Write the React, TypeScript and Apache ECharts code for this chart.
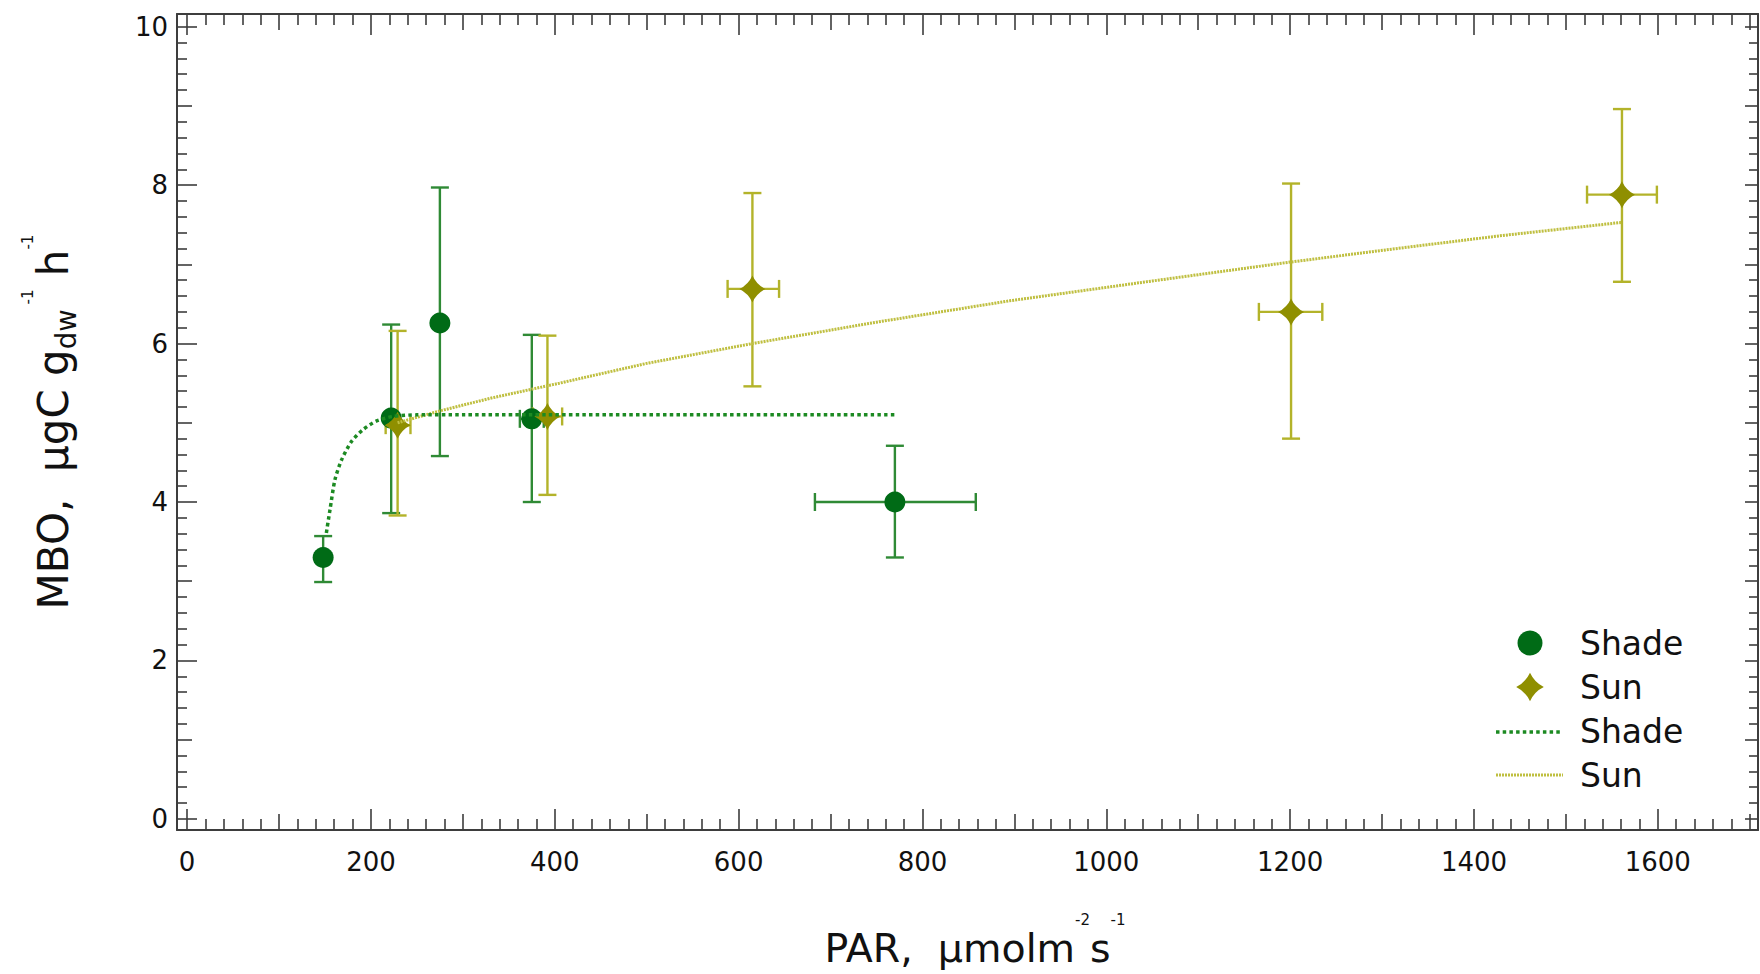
import React, { useEffect, useRef } from "react";
import * as echarts from "echarts";

// ---------- data ----------
const shadeX = [148, 222, 275, 375, 770];
const shadeY = [3.3, 5.06, 6.26, 5.05, 4.0];
const shadeYLow = [2.99, 3.86, 4.58, 4.0, 3.3];
const shadeYHigh = [3.57, 6.24, 7.97, 6.11, 4.71];
const shadeXLow = [148, 222, 275, 362, 683];
const shadeXHigh = [148, 222, 275, 388, 858];

const sunX = [229, 392, 615, 1201, 1561];
const sunY = [4.97, 5.08, 6.69, 6.4, 7.88];
const sunYLow = [3.83, 4.09, 5.46, 4.8, 6.78];
const sunYHigh = [6.16, 6.1, 7.9, 8.02, 8.96];
const sunXLow = [216, 376, 588, 1166, 1523];
const sunXHigh = [243, 408, 644, 1235, 1599];

// fitted curves, points
const shadeFitX = [151.5, 155.4, 160.8, 168, 178.6, 191, 205.6, 224, 250, 300, 771];
const shadeFitY = [3.61, 3.9, 4.28, 4.53, 4.76, 4.91, 5.02, 5.08, 5.1, 5.1, 5.1];
const sunFitX = [229, 275, 330, 405, 500, 615, 750, 895, 1050, 1201, 1330, 1428, 1561];
const sunFitY = [5.0, 5.15, 5.31, 5.5, 5.75, 6.0, 6.27, 6.54, 6.79, 7.03, 7.22, 7.36, 7.53];

// axes
const X_MIN = -11;
const X_MAX = 1709;
const Y_MIN = -0.14;
const Y_MAX = 10.16;
const xMajorTicks = [0, 200, 400, 600, 800, 1000, 1200, 1400, 1600];
const xMediumTicks = [100, 300, 500, 700, 900, 1100, 1300, 1500, 1700];
const xMinorTicks: number[] = [];
for (let v = 20; v <= 1700; v += 20) if (v % 100 !== 0) xMinorTicks.push(v);
const yMajorTicks = [0, 2, 4, 6, 8, 10];
const yMediumTicks = [1, 3, 5, 7, 9];
const yIntTicks = [0, 1, 2, 3, 4, 5, 6, 7, 8, 9, 10];
const yMinorTicks: number[] = [];
for (let k = 1; k < 50; k++) if (k % 5 !== 0) yMinorTicks.push(Math.round(k * 2) / 10);

const legendLabels = ["Shade", "Sun", "Shade", "Sun"];

// ---------- styles ----------
const FONT = "DejaVu Sans";
const AXIS = "#3d3d3d";
const TXT = "#111111";
const SHADE_MARK = "#006b16";
const SHADE_ERR = "#2f8a35";
const SHADE_FIT = "#1c8a22";
const SUN_MARK = "#8f8f00";
const SUN_ERR = "#b3b32a";
const SUN_FIT = "#bfbf40";

const STAR_D = "M0,-10 Q3.2,-3.2 10,0 Q3.2,3.2 0,10 Q-3.2,3.2 -10,0 Q-3.2,-3.2 0,-10 Z";
let starRegistered = false;
function ensureStar() {
  if (starRegistered) return;
  echarts.graphic.registerShape("star4", echarts.graphic.extendPath(STAR_D, {}) as any);
  starRegistered = true;
}

const plainNum = (v: number) => String(v);

function xAxis(pos: string, ticks: number[], len: number, labels: boolean, line: boolean) {
  return {
    type: "value",
    position: pos,
    min: X_MIN,
    max: X_MAX,
    gridIndex: 0,
    axisLine: { show: line, onZero: false, lineStyle: { color: AXIS, width: 2 } },
    axisTick: { show: true, inside: true, length: len, customValues: ticks, lineStyle: { color: AXIS, width: 1.6 } },
    axisLabel: labels
      ? { show: true, customValues: ticks, formatter: plainNum, fontFamily: FONT, fontSize: 26, color: TXT, margin: 19 }
      : { show: false },
    splitLine: { show: false },
    minorTick: { show: false },
  };
}
function yAxis(pos: string, ticks: number[], len: number, labels: boolean, line: boolean) {
  return {
    type: "value",
    position: pos,
    min: Y_MIN,
    max: Y_MAX,
    gridIndex: 0,
    axisLine: { show: line, onZero: false, lineStyle: { color: AXIS, width: 2 } },
    axisTick: { show: true, inside: true, length: len, customValues: ticks, lineStyle: { color: AXIS, width: 1.6 } },
    axisLabel: labels
      ? { show: true, customValues: ticks, formatter: plainNum, fontFamily: FONT, fontSize: 26, color: TXT, margin: 9 }
      : { show: false },
    splitLine: { show: false },
    minorTick: { show: false },
  };
}

function errRenderer(color: string) {
  return (params: any, api: any) => {
    const x = api.value(0), y = api.value(1);
    const xl = api.value(2), xh = api.value(3), yl = api.value(4), yh = api.value(5);
    const pYL = api.coord([x, yl]);
    const pYH = api.coord([x, yh]);
    const pXL = api.coord([xl, y]);
    const pXH = api.coord([xh, y]);
    const cap = 9;
    const style = { stroke: color, lineWidth: 2.4, fill: null };
    const children: any[] = [
      { type: "line", shape: { x1: pYL[0], y1: pYL[1], x2: pYH[0], y2: pYH[1] }, style },
      { type: "line", shape: { x1: pYL[0] - cap, y1: pYL[1], x2: pYL[0] + cap, y2: pYL[1] }, style },
      { type: "line", shape: { x1: pYH[0] - cap, y1: pYH[1], x2: pYH[0] + cap, y2: pYH[1] }, style },
    ];
    if (xh > xl) {
      children.push(
        { type: "line", shape: { x1: pXL[0], y1: pXL[1], x2: pXH[0], y2: pXH[1] }, style },
        { type: "line", shape: { x1: pXL[0], y1: pXL[1] - cap, x2: pXL[0], y2: pXL[1] + cap }, style },
        { type: "line", shape: { x1: pXH[0], y1: pXH[1] - cap, x2: pXH[0], y2: pXH[1] + cap }, style }
      );
    }
    return { type: "group", children };
  };
}

export default function App() {
  const ref = useRef<HTMLDivElement>(null);
  useEffect(() => {
    if (!ref.current) return;
    ensureStar();
    const chart = echarts.init(ref.current, null, { renderer: "svg" });

    const shadeErrData = shadeX.map((x, i) => [x, shadeY[i], shadeXLow[i], shadeXHigh[i], shadeYLow[i], shadeYHigh[i]]);
    const sunErrData = sunX.map((x, i) => [x, sunY[i], sunXLow[i], sunXHigh[i], sunYLow[i], sunYHigh[i]]);

    chart.setOption({
      animation: false,
      backgroundColor: "#ffffff",
      grid: { left: 177, right: 2, top: 14, bottom: 144, containLabel: false, outerBoundsMode: "none" },
      xAxis: [
        xAxis("bottom", xMajorTicks, 21, true, true),
        xAxis("bottom", xMediumTicks, 16, false, false),
        xAxis("bottom", xMinorTicks, 11, false, false),
        xAxis("top", xMajorTicks, 21, false, true),
        xAxis("top", xMediumTicks, 16, false, false),
        xAxis("top", xMinorTicks, 11, false, false),
      ],
      yAxis: [
        yAxis("left", yMajorTicks, 20, true, true),
        yAxis("left", yMediumTicks, 15, false, false),
        yAxis("left", yMinorTicks, 10, false, false),
        yAxis("right", yIntTicks, 13, false, true),
        yAxis("right", yMinorTicks, 9, false, false),
      ],
      series: [
        {
          type: "custom",
          name: "ShadeErr",
          xAxisIndex: 0,
          yAxisIndex: 0,
          renderItem: errRenderer(SHADE_ERR),
          data: shadeErrData,
          z: 3,
          silent: true,
        },
        {
          type: "custom",
          name: "SunErr",
          xAxisIndex: 0,
          yAxisIndex: 0,
          renderItem: errRenderer(SUN_ERR),
          data: sunErrData,
          z: 3,
          silent: true,
        },
        {
          type: "scatter",
          name: "Shade",
          xAxisIndex: 0,
          yAxisIndex: 0,
          symbol: "circle",
          symbolSize: 21,
          itemStyle: { color: SHADE_MARK, opacity: 1 },
          data: shadeX.map((x, i) => [x, shadeY[i]]),
          z: 4,
        },
        {
          type: "scatter",
          name: "Sun",
          xAxisIndex: 0,
          yAxisIndex: 0,
          symbol: "path://" + STAR_D,
          symbolSize: [26, 27],
          itemStyle: { color: SUN_MARK, opacity: 1 },
          data: sunX.map((x, i) => [x, sunY[i]]),
          z: 4,
        },
        {
          type: "line",
          name: "SunFit",
          xAxisIndex: 0,
          yAxisIndex: 0,
          showSymbol: false,
          smooth: false,
          lineStyle: { color: SUN_FIT, width: 3, type: [2, 1] },
          data: sunFitX.map((x, i) => [x, sunFitY[i]]),
          z: 5,
        },
        {
          type: "line",
          name: "ShadeFit",
          xAxisIndex: 0,
          yAxisIndex: 0,
          showSymbol: false,
          smooth: 0.25,
          lineStyle: { color: SHADE_FIT, width: 3.5, type: [3.5, 3.2] },
          data: shadeFitX.map((x, i) => [x, shadeFitY[i]]),
          z: 6,
        },
      ],
      graphic: [
        // x-axis title
        {
          type: "text",
          x: 975,
          y: 968,
          style: {
            text: "{m|PAR,  µmolm}{s|-2}{m|s}{s|-1}",
            align: "center",
            verticalAlign: "bottom",
            rich: {
              m: { fontFamily: FONT, fontSize: 39.5, fill: TXT, height: 40, lineHeight: 40, verticalAlign: "bottom" },
              s: { fontFamily: FONT, fontSize: 15, fill: TXT, height: 15, lineHeight: 56, verticalAlign: "top" },
            },
          },
        },
        // y-axis title
        {
          type: "text",
          x: 47,
          y: 422,
          rotation: Math.PI / 2,
          style: {
            text: "{m|MBO,  µgC g}{d|dw}{s| -1}{m| h}{s|-1}",
            align: "center",
            verticalAlign: "middle",
            rich: {
              m: { fontFamily: FONT, fontSize: 42, fill: TXT, height: 42, lineHeight: 42, verticalAlign: "bottom" },
              d: { fontFamily: FONT, fontSize: 27.5, fill: TXT, height: 16, lineHeight: 20, verticalAlign: "bottom" },
              s: { fontFamily: FONT, fontSize: 15, fill: TXT, height: 15, lineHeight: 54, verticalAlign: "top" },
            },
          },
        },
        // legend
        { type: "circle", shape: { cx: 1530, cy: 643, r: 12.5 }, style: { fill: SHADE_MARK } },
        { type: "star4", x: 1530, y: 687, scaleX: 1.38, scaleY: 1.42, style: { fill: SUN_MARK } },
        {
          type: "line",
          shape: { x1: 1496, y1: 732, x2: 1562, y2: 732 },
          style: { stroke: SHADE_FIT, lineWidth: 3.5, lineDash: [3.5, 3.2] },
        },
        {
          type: "line",
          shape: { x1: 1496, y1: 775, x2: 1563, y2: 775 },
          style: { stroke: SUN_FIT, lineWidth: 3, lineDash: [2, 1] },
        },
        ...legendLabels.map((t, i) => ({
          type: "text",
          x: 1580,
          y: 643 + i * 44,
          style: { text: t, fontFamily: FONT, fontSize: 33, fill: TXT, align: "left", verticalAlign: "middle" },
        })),
      ],
    } as any);

    return () => chart.dispose();
  }, []);

  return (
    <div
      ref={ref}
      style={{ position: "fixed", left: 0, top: 0, width: 1760, height: 974, background: "#fff" }}
    />
  );
}
